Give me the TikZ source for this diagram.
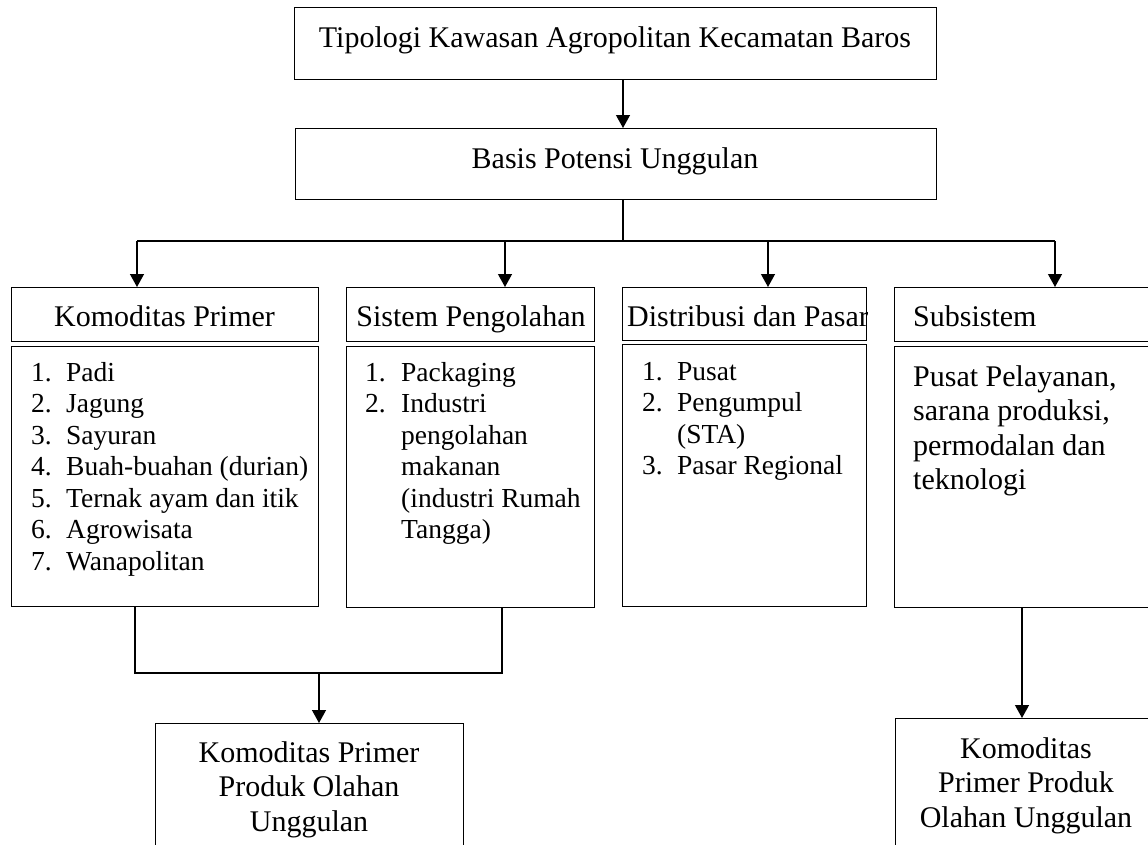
\documentclass[tikz,border=0pt]{standalone}
\usepackage{fontspec}
\setmainfont{Liberation Serif}
\usetikzlibrary{arrows.meta}
\newcommand{\mainsz}{\fontsize{30}{34.5}\selectfont}
\newcommand{\listsz}{\fontsize{27.5}{31.5}\selectfont}
\tikzset{
  box/.style={draw, line width=1.3pt, rectangle, anchor=north west, inner sep=0pt},
  txt/.style={inner sep=0pt, font=\mainsz},
  lst/.style={inner sep=0pt, font=\listsz, anchor=base west},
  conn/.style={line width=1.3pt},
  arr/.style={line width=1.3pt, -{Triangle[width=14pt,length=13pt]}}
}
\begin{document}
\begin{tikzpicture}[x=1pt,y=-1pt]
\useasboundingbox (0,0) rectangle (1148,844);
% boxes
\node[box, minimum width=642pt, minimum height=72pt] (top) at (294,7) {};
\node[box, minimum width=641pt, minimum height=71pt] (basis) at (295,128) {};
\node[box, minimum width=307pt, minimum height=54pt] (kph) at (11,287) {};
\node[box, minimum width=307pt, minimum height=260pt] (kpb) at (11,346) {};
\node[box, minimum width=248pt, minimum height=54pt] (sph) at (346,287) {};
\node[box, minimum width=248pt, minimum height=261pt] (spb) at (346,346) {};
\node[box, minimum width=244pt, minimum height=53pt] (dph) at (622,287) {};
\node[box, minimum width=244pt, minimum height=262pt] (dpb) at (622,344) {};
\node[box, minimum width=270pt, minimum height=54pt] (ssh) at (894,287) {};
\node[box, minimum width=270pt, minimum height=261pt] (ssb) at (894,346) {};
\node[box, minimum width=308pt, minimum height=140pt] (bl) at (155,723) {};
\node[box, minimum width=270pt, minimum height=145pt] (br) at (895,718) {};
% texts
\node[txt, anchor=base] (ttop) at (615,47) {Tipologi Kawasan Agropolitan Kecamatan Baros};
\node[txt, anchor=base] (tbasis) at (615,168) {Basis Potensi Unggulan};
\node[txt, anchor=base] (tkph) at (164.5,326) {Komoditas Primer};
\node[txt, anchor=base] (tsph) at (471,326) {Sistem Pengolahan};
\begin{scope}
\clip (dph.north west) rectangle (dph.south east);
\node[txt, anchor=base west] (tdph) at (627,326) {Distribusi dan Pasar};
\end{scope}
\node[txt, anchor=base west] (tssh) at (913,326) {Subsistem};
\node[lst] (tkpb) at (31,381) {\begin{tabular}[t]{@{}p{35pt}@{}l@{}}
1. & Padi\\ 2. & Jagung\\ 3. & Sayuran\\ 4. & Buah-buahan (durian)\\
5. & Ternak ayam dan itik\\ 6. & Agrowisata\\ 7. & Wanapolitan\end{tabular}};
\node[lst] (tspb) at (365,381) {\begin{tabular}[t]{@{}p{36pt}@{}l@{}}
1. & Packaging\\ 2. & Industri\\ & pengolahan\\ & makanan\\
& (industri Rumah\\ & Tangga)\end{tabular}};
\node[lst] (tdpb) at (642,380) {\begin{tabular}[t]{@{}p{35pt}@{}l@{}}
1. & Pusat\\ 2. & Pengumpul\\ & (STA)\\ 3. & Pasar Regional\end{tabular}};
\node[txt, anchor=base west] (tssb) at (913,386) {\begin{tabular}[t]{@{}l@{}}
Pusat Pelayanan,\\ sarana produksi,\\ permodalan dan\\ teknologi\end{tabular}};
\node[txt, anchor=base] (tbl) at (309,762) {\begin{tabular}[t]{@{}c@{}}
Komoditas Primer\\ Produk Olahan\\ Unggulan\end{tabular}};
\node[txt, anchor=base] (tbr) at (1026,758) {\begin{tabular}[t]{@{}c@{}}
Komoditas\\ Primer Produk\\ Olahan Unggulan\end{tabular}};
% connectors
\coordinate (j) at (623,241);
\coordinate (b1) at (137,241);
\coordinate (b2) at (505,241);
\coordinate (b3) at (768,241);
\coordinate (b4) at (1055,241);
\coordinate (m) at (319,673);
\draw[arr] (j |- top.south) -- (j |- basis.north);
\draw[conn] (j |- basis.south) -- (j);
\draw[conn] (b1) -- (b4);
\draw[arr] (b1) -- (b1 |- kph.north);
\draw[arr] (b2) -- (b2 |- sph.north);
\draw[arr] (b3) -- (b3 |- dph.north);
\draw[arr] (b4) -- (b4 |- ssh.north);
\draw[conn] (kpb.south -| 135,0) -- (135,673) -- (502,673) -- (spb.south -| 502,0);
\draw[arr] (m) -- (m |- bl.north);
\draw[arr] (ssb.south -| 1022,0) -- (br.north -| 1022,0);
\end{tikzpicture}
\end{document}
